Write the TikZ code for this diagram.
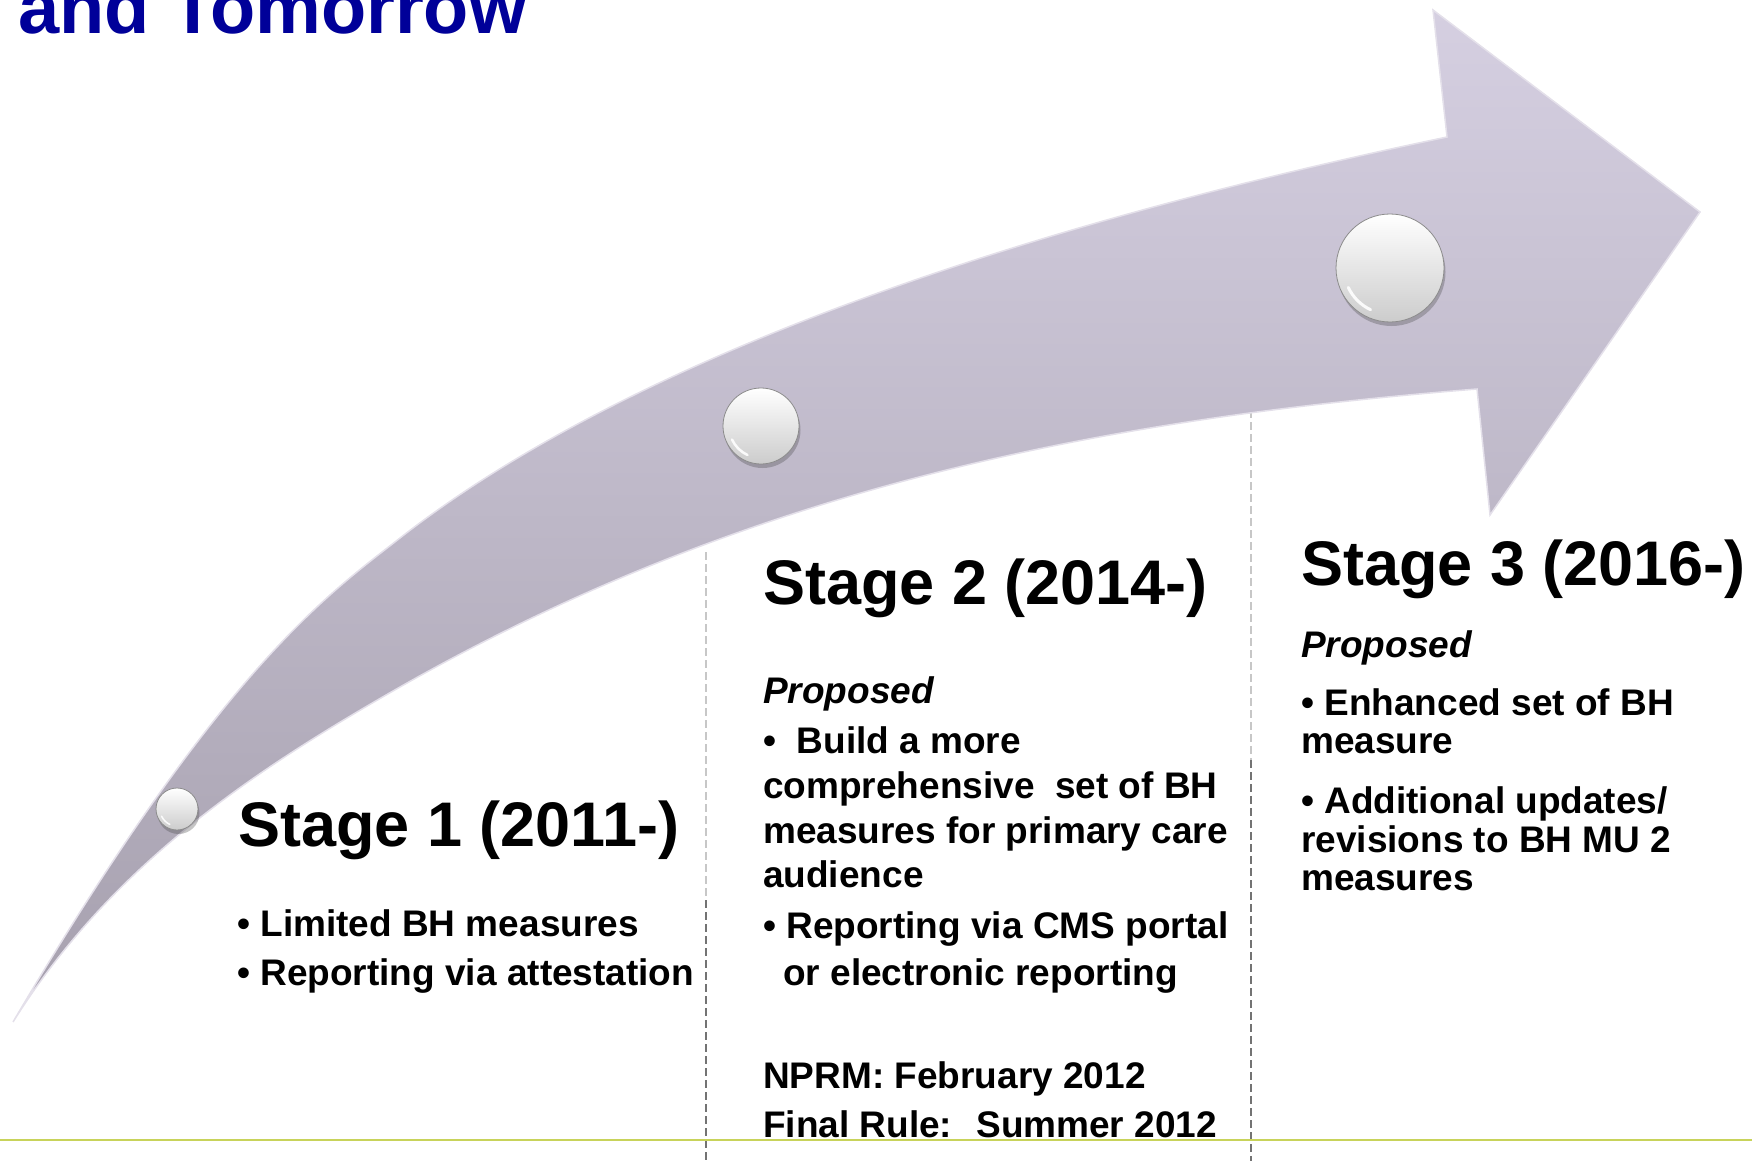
\documentclass[tikz,border=0pt]{standalone}
\usepackage{fontspec}
\setmainfont{Liberation Sans}
\usetikzlibrary{shadows}
\definecolor{titleblue}{HTML}{000099}
\definecolor{arrowtop}{HTML}{D5CFE1}
\definecolor{arrowbot}{HTML}{A6A0AE}
\definecolor{arrowrim}{HTML}{E4E0EA}
\definecolor{rulegreen}{HTML}{C8D35A}
\begin{document}
\begin{tikzpicture}[x=1pt,y=-1pt,
  body/.style={font=\fontsize{37}{44}\selectfont\bfseries, anchor=base west, inner sep=0pt},
  prop/.style={font=\fontsize{37}{44}\selectfont\bfseries\itshape, anchor=base west, inner sep=0pt},
  headtxt/.style={font=\fontsize{63}{70}\selectfont\bfseries, anchor=base west, inner sep=0pt},
  button/.style={circle, inner sep=0pt, draw=black!45, line width=0.8pt,
    top color=white, bottom color=black!20,
    drop shadow={shadow xshift=1.5pt, shadow yshift=-4pt, opacity=0.3, fill=black!75}},
  gleam/.style={white, line width=2.5pt, line cap=round, opacity=0.9},
  dividerfaint/.style={black!22, dash pattern=on 8pt off 4pt, line width=1.1pt},
  dividerdark/.style={black!55, dash pattern=on 8pt off 4pt, line width=1.1pt}
]
\useasboundingbox (0,0) rectangle (1752,1161);
\begin{scope}
\clip (0,0) rectangle (1752,1161);

% title
\node[font=\fontsize{74}{80}\selectfont\bfseries, text=titleblue, anchor=base west, inner sep=0pt] (title) at (18,34) {and Tomorrow};

% dividers
\coordinate (d1a) at (706,552);
\coordinate (d1b) at (706,900);
\coordinate (d1c) at (706,1161);
\coordinate (d2a) at (1251,410);
\coordinate (d2b) at (1251,760);
\coordinate (d2c) at (1251,1161);
\draw[dividerfaint] (d1a) -- (d1b);
\draw[dividerdark] (d1b) -- (d1c);
\draw[dividerfaint] (d2a) -- (d2b);
\draw[dividerdark] (d2b) -- (d2c);

% green rule
\coordinate (gl) at (0,1140);
\coordinate (gr) at (1752,1140);
\draw[rulegreen, line width=2pt] (gl) -- (gr);

% arrow
\shade[top color=arrowtop, bottom color=arrowbot, draw=arrowrim, line width=1.5pt, line join=miter]
  (13,1022) .. controls (223,665) and (330,593) .. (400,538)
  .. controls (660,335) and (1097,210) .. (1447,137)
  -- (1433,10) -- (1700,212) -- (1490,515) -- (1477,389)
  .. controls (1117,418) and (760,482) .. (400,687)
  .. controls (260,767) and (113,862) .. (13,1022)
  -- cycle;

% buttons
\node[button, minimum size=42pt] (c1) at (177,809) {};
\node[button, minimum size=76pt] (c2) at (761,426) {};
\node[button, minimum size=108pt] (c3) at (1390,268) {};
\draw[gleam, line width=1.5pt] ([shift={(205:17pt)}]c1.center) arc[start angle=205, end angle=245, radius=17pt];
\draw[gleam] ([shift={(205:32pt)}]c2.center) arc[start angle=205, end angle=245, radius=32pt];
\draw[gleam, line width=3pt] ([shift={(205:46pt)}]c3.center) arc[start angle=205, end angle=245, radius=46pt];

% stage 1
\node[headtxt] (s1) at (238,846) {Stage 1 (2011-)};
\node[body] (s1a) at (237,936) {• Limited BH measures};
\node[body] (s1b) at (237,985) {• Reporting via attestation};

% stage 2
\node[headtxt] (s2) at (763,604) {Stage 2 (2014-)};
\node[prop] (s2p) at (763,703) {Proposed};
\node[body] (s2a) at (763,753) {•~ Build a more};
\node[body] (s2b) at (763,798) {comprehensive~ set of BH};
\node[body] (s2c) at (763,843) {measures for primary care};
\node[body] (s2d) at (763,887) {audience};
\node[body] (s2e) at (763,938) {• Reporting via CMS portal};
\node[body] (s2f) at (783,985) {or electronic reporting};
\node[body] (s2g) at (763,1088) {NPRM: February 2012};
\node[body] (s2h) at (763,1137) {Final Rule:~ Summer 2012};

% stage 3
\node[headtxt] (s3) at (1301,585) {Stage 3 (2016-)};
\node[prop] (s3p) at (1301,657) {Proposed};
\node[body] (s3a) at (1301,715) {• Enhanced set of BH};
\node[body] (s3b) at (1301,753) {measure};
\node[body] (s3c) at (1301,813) {• Additional updates/};
\node[body] (s3d) at (1301,852) {revisions to BH MU 2};
\node[body] (s3e) at (1301,890) {measures};
\end{scope}
\end{tikzpicture}
\end{document}
